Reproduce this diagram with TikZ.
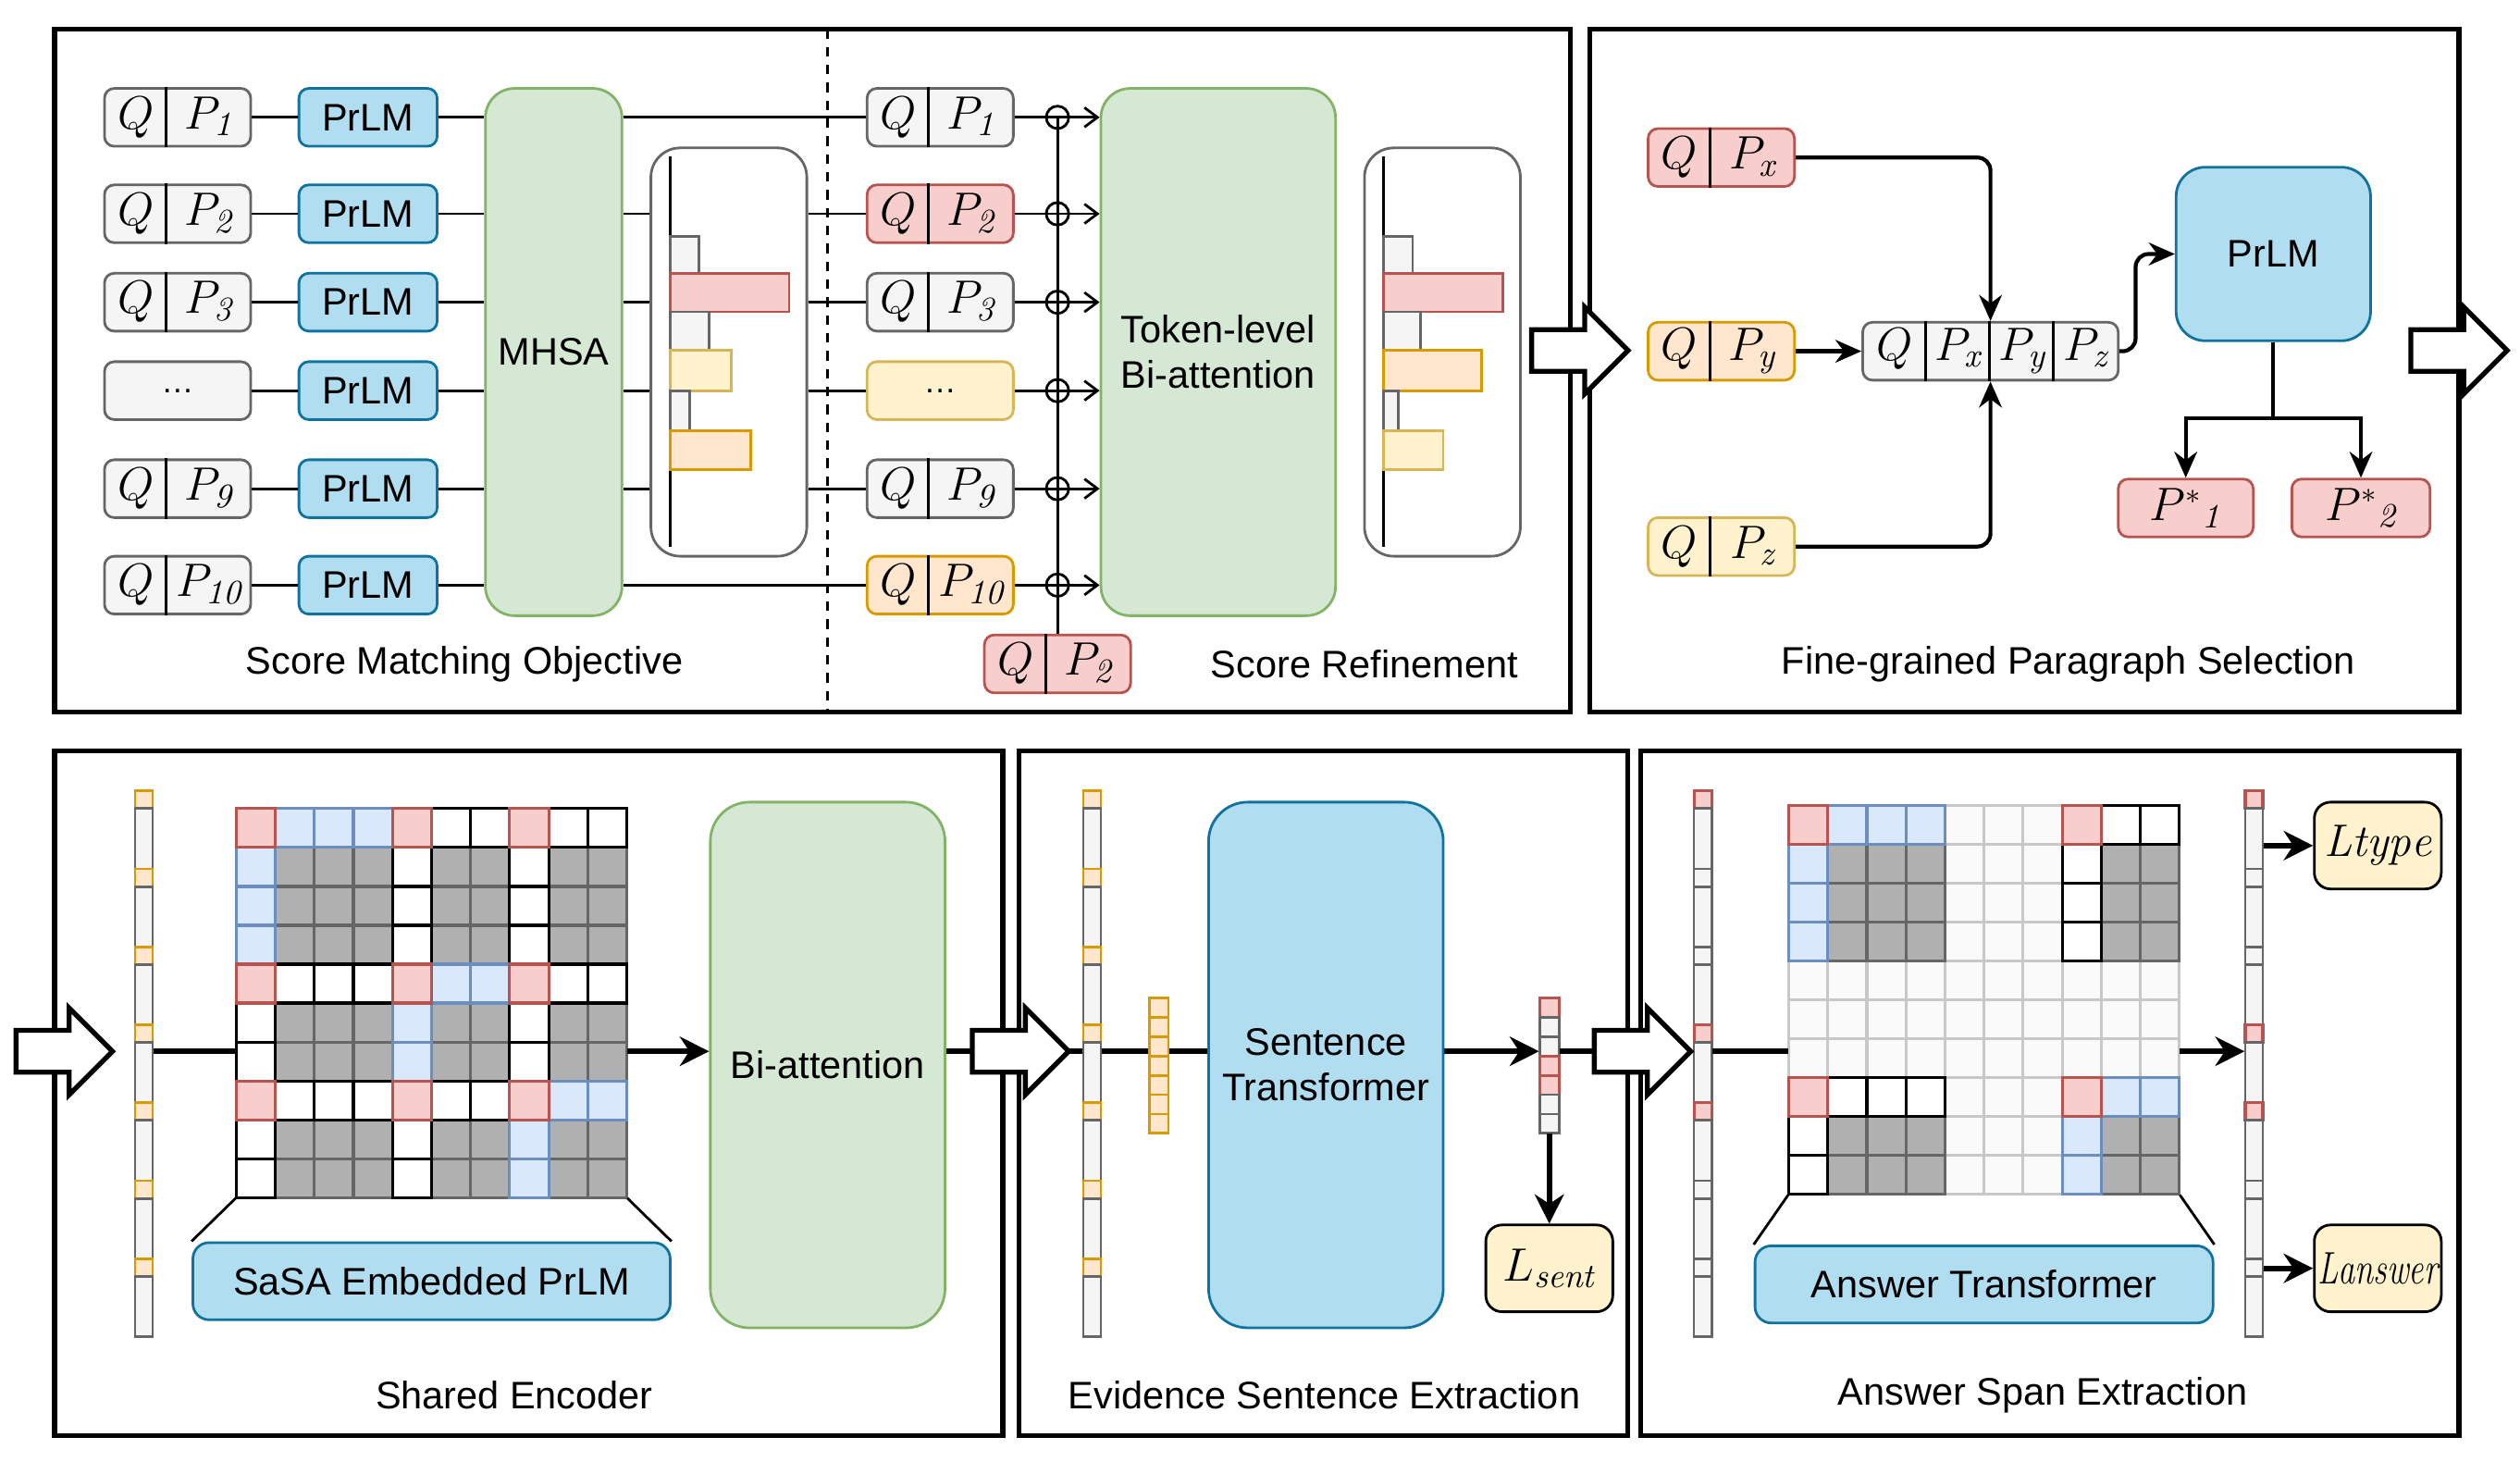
\documentclass[tikz,border=0pt]{standalone}
\usepackage{amsmath}
\usepackage{graphicx}
\usepackage{fontspec}
\newfontfamily\arialfont{Liberation Sans}
\usepackage{tikz}
\usetikzlibrary{arrows.meta, positioning}

\definecolor{grayF}{HTML}{F5F5F5}
\definecolor{grayD}{HTML}{666666}
\definecolor{redF}{HTML}{F8CECC}
\definecolor{redD}{HTML}{B85450}
\definecolor{yelF}{HTML}{FFF2CC}
\definecolor{yelD}{HTML}{D6B656}
\definecolor{oraF}{HTML}{FFE6CC}
\definecolor{oraD}{HTML}{D79B00}
\definecolor{blueF}{HTML}{B1DDF0}
\definecolor{blueD}{HTML}{10739E}
\definecolor{greenF}{HTML}{D5E8D4}
\definecolor{greenD}{HTML}{82B366}
\definecolor{lblueF}{HTML}{DAE8FC}
\definecolor{lblueD}{HTML}{6C8EBF}
\definecolor{matG}{HTML}{B0B0B0}
\definecolor{lightF}{HTML}{FAFAFA}
\definecolor{lightD}{HTML}{C8C8C8}

\def\sz{0.17372mm}

% large italic subscript
\newcommand{\isub}[1]{_{\mbox{\fontsize{10.5}{12}\selectfont\itshape #1}}}

% Q|P box: name, colour, position, right part
\newcommand{\qpnode}[4]{%
	\node[qp, #2] (#1) at (#3) {\makebox[6.8mm]{$Q$}\makebox[9mm]{#4}};
	\draw[line width=0.8pt] ([xshift=6.8mm]#1.north west) -- ([xshift=6.8mm]#1.south west);
}

% token column: name, x, small cells
\newcommand{\tokenbar}[3]{%
	\node[inner sep=0pt, minimum width=11*\sz, minimum height=340*\sz] (#1) at (#2,662) {};
	\foreach \sty [count=\kk from 0] in {#3}{
		\draw[cell\sty] (#2-5.5,492+48.5*\kk) rectangle ++(11,11);
		\draw[cellT] (#2-5.5,503+48.5*\kk) rectangle ++(11,37.5);
	}
}

% sentence vector: name, x, cells
\newcommand{\sentvec}[3]{%
	\node[inner sep=0pt, minimum width=12*\sz, minimum height=84*\sz] (#1) at (#2,663) {};
	\foreach \sty [count=\kk from 0] in {#3}
		\draw[cell\sty] (#2-6,621+12*\kk) rectangle ++(12,12);
}

% attention mask: left, top, rows
\newcommand{\maskgrid}[3]{%
	\foreach \pass in {L,G,W,B,R}{
		\foreach \row [count=\ri from 0] in {#3}{
			\foreach \cc [count=\cj from 0] in \row{
				\edef\ca{\cc}\edef\cb{\pass}%
				\ifx\ca\cb
					\draw[cell\cc] (#1+24.3*\cj,#2+24.2*\ri) rectangle ++(24.3,24.2);
				\fi
			}
		}
	}
}

\begin{document}
\begin{tikzpicture}[
		x=0.17372mm, y=-0.17372mm,
		font=\arialfont\fontsize{11.8}{14}\selectfont,
		panel/.style={draw, line width=1.5pt},
		qp/.style={
			draw,
			rounded corners=3pt,
			line width=0.8pt,
			inner sep=0pt,
			minimum width=91*\sz,
			minimum height=36*\sz,
			font=\fontsize{13.5}{15}\selectfont
		},
		gcol/.style={fill=grayF, draw=grayD},
		rcol/.style={fill=redF, draw=redD},
		ycol/.style={fill=yelF, draw=yelD},
		ocol/.style={fill=oraF, draw=oraD},
		bluebox/.style={draw=blueD, fill=blueF, line width=0.8pt, align=center},
		prlm/.style={bluebox, rounded corners=3pt, minimum width=86*\sz, minimum height=36*\sz},
		bigbox/.style={draw=greenD, fill=greenF, rounded corners=9pt, line width=0.8pt, align=center},
		histbox/.style={draw=grayD, rounded corners=9pt, line width=0.8pt, minimum width=97*\sz, minimum height=254*\sz},
		lossbox/.style={
			draw,
			fill=yelF,
			rounded corners=5pt,
			line width=0.8pt,
			inner sep=0pt,
			minimum width=79*\sz,
			minimum height=54*\sz,
			font=\fontsize{14}{16}\selectfont
		},
		oplus/.style={circle, draw, line width=0.8pt, minimum size=14*\sz, inner sep=0pt},
		link/.style={line width=0.8pt},
		barb/.style={link, -{Straight Barb[length=4pt, width=6pt]}},
		arr/.style={line width=1.2pt, rounded corners=4pt, -{Stealth[length=8pt, width=7pt]}},
		thickline/.style={line width=1.6pt},
		thickarr/.style={thickline, -{Stealth[length=9pt, width=9pt]}},
		hollow/.style={draw, fill=white, line width=1.5pt},
		cellR/.style={fill=redF, draw=redD, line width=0.9pt},
		cellB/.style={fill=lblueF, draw=lblueD, line width=0.9pt},
		cellG/.style={fill=matG, draw=grayD, line width=0.9pt},
		cellW/.style={fill=white, draw=black, line width=0.9pt},
		cellL/.style={fill=lightF, draw=lightD, line width=0.9pt},
		cellO/.style={fill=oraF, draw=oraD, line width=0.8pt},
		cellT/.style={fill=grayF, draw=grayD, line width=0.8pt}
		]
		\useasboundingbox (0,0) rectangle (1568,909);
		
		% Paneles
		\draw[panel] (34,18) rectangle (977,443);
		\draw[panel] (989,18) rectangle (1530,443);
		\draw[panel] (34,467) rectangle (624,893);
		\draw[panel] (634,467) rectangle (1013,893);
		\draw[panel] (1021,467) rectangle (1530,893);
		\draw[line width=0.8pt, dash pattern=on 3pt off 2.5pt] (515,18) -- (515,443);
		
		% Score matching
		\foreach \n/\y/\p in {1/73/1, 2/133/2, 3/188/3, 5/304/9, 6/364/10}{
			\qpnode{ql\n}{gcol}{110.5,\y}{$P\isub{\p}$}
		}
		\node[qp, gcol, font=\arialfont] (ql4) at (110.5,243) {\ldots};
		\foreach \n/\y in {1/73, 2/133, 3/188, 4/243, 5/304, 6/364}
			\node[prlm] (pm\n) at (229,\y) {PrLM};
		\node[bigbox, minimum width=85*\sz, minimum height=328*\sz] (mhsa) at (344.5,219) {MHSA};
		\node[histbox] (hist1) at (453.5,219) {};
		
		\qpnode{qr1}{gcol}{585,73}{$P\isub{1}$}
		\qpnode{qr2}{rcol}{585,133}{$P\isub{2}$}
		\qpnode{qr3}{gcol}{585,188}{$P\isub{3}$}
		\node[qp, ycol, font=\arialfont] (qr4) at (585,243) {\ldots};
		\qpnode{qr5}{gcol}{585,304}{$P\isub{9}$}
		\qpnode{qr6}{ocol}{585,364}{$P\isub{10}$}
		
		\foreach \n in {1,...,6}{
			\draw[link] (ql\n) -- (pm\n);
			\draw[link] (pm\n) -- (mhsa.west |- pm\n);
		}
		\draw[link] (mhsa.east |- qr1) -- (qr1);
		\draw[link] (mhsa.east |- qr6) -- (qr6);
		\foreach \n in {2,...,5}{
			\draw[link] (mhsa.east |- qr\n) -- (hist1.west |- qr\n);
			\draw[link] (hist1.east |- qr\n) -- (qr\n);
		}
		
		\draw[link] (417,97) -- (417,340);
		\draw[gcol, link] (417,147) rectangle (435,170);
		\draw[rcol, link] (417,170) rectangle (491,194);
		\draw[gcol, link] (417,194) rectangle (441,218);
		\draw[ycol, link] (417,218) rectangle (455,243);
		\draw[gcol, link] (417,243) rectangle (429,268);
		\draw[ocol, link] (417,268) rectangle (467,292);
		
		% Score refinement
		\node[bigbox, minimum width=146*\sz, minimum height=328*\sz] (tba) at (758,219) {Token-level\\Bi-attention};
		\qpnode{qbot}{rcol}{658,413}{$P\isub{2}$}
		\draw[link] (qbot.north) -- (qbot.north |- qr1);
		\foreach \n in {1,...,6}{
			\node[oplus] (c\n) at (qbot.north |- qr\n) {};
			\draw[barb] (qr\n) -- (tba.west |- qr\n);
		}
		\node[histbox] (hist2) at (897.5,219) {};
		\draw[link] (861,97) -- (861,340);
		\draw[gcol, link] (861,147) rectangle (879,170);
		\draw[rcol, link] (861,170) rectangle (935,194);
		\draw[gcol, link] (861,194) rectangle (884,218);
		\draw[ocol, link] (861,218) rectangle (922,243);
		\draw[gcol, link] (861,243) rectangle (870,268);
		\draw[ycol, link] (861,268) rectangle (898,292);
		
		\node (lab1) at (289,413) {Score Matching Objective};
		\node (lab2) at (849,413) {Score Refinement};
		
		% Paragraph selection
		\qpnode{px}{rcol}{1071,98}{$P\isub{x}$}
		\qpnode{py}{ocol}{1071,218.5}{$P\isub{y}$}
		\qpnode{pz}{ycol}{1071,340}{$P\isub{z}$}
		\node[qp, gcol, minimum width=159*\sz] (comb) at (1238.5,218.5) {\makebox[6.9mm]{$Q$}\makebox[6.9mm]{$P\isub{x}$}\makebox[6.9mm]{$P\isub{y}$}\makebox[6.9mm]{$P\isub{z}$}};
		\foreach \m in {1,2,3}
			\draw[line width=0.8pt] ([xshift=\m*6.9mm]comb.north west) -- ([xshift=\m*6.9mm]comb.south west);
		\node[bluebox, rounded corners=9pt, minimum width=121*\sz, minimum height=108*\sz] (bigprlm) at (1414.5,158) {PrLM};
		\node[qp, rcol, minimum width=84*\sz] (ps1) at (1360,316) {$P^{*}{}\isub{1}$};
		\node[qp, rcol, minimum width=86*\sz] (ps2) at (1469,316) {$P^{*}{}\isub{2}$};
		\coordinate (fork) at (bigprlm.south |- 0,260);
		
		\draw[arr] (px) -| (comb.north);
		\draw[arr] (pz) -| (comb.south);
		\draw[arr] (py) -- (comb);
		\draw[arr] (comb.east) -- ++(10,0) |- (bigprlm.west);
		\draw[line width=1.2pt] (bigprlm.south) -- (fork);
		\draw[arr, rounded corners=0pt] (fork) -| (ps1.north);
		\draw[arr, rounded corners=0pt] (fork) -| (ps2.north);
		
		\node (lab3) at (1287,413) {Fine-grained Paragraph Selection};
		
		% Bloques de flechas
		\coordinate (fw4) at (605,654);
		\coordinate (fw4tip) at (663,654);
		\coordinate (fw5) at (992,654);
		\coordinate (fw5tip) at (1052,654);
		
		% Shared encoder
		\tokenbar{bar1}{89.5}{O,O,O,O,O,O,O}
		\node[inner sep=0pt, minimum width=243*\sz, minimum height=242*\sz] (grid1) at (268.5,624) {};
		\maskgrid{147}{503}{{R,B,B,B,R,W,W,R,W,W},{B,G,G,G,W,G,G,W,G,G},{B,G,G,G,W,G,G,W,G,G},{B,G,G,G,W,G,G,W,G,G},{R,W,W,W,R,B,B,R,W,W},{W,G,G,G,B,G,G,W,G,G},{W,G,G,G,B,G,G,W,G,G},{R,W,W,W,R,W,W,R,B,B},{W,G,G,G,W,G,G,B,G,G},{W,G,G,G,W,G,G,B,G,G}}
		\node[bluebox, rounded corners=5pt, minimum width=297*\sz, minimum height=48*\sz] (sasa) at (268.5,797) {SaSA Embedded PrLM};
		\draw[link] (grid1.south west) -- (sasa.north west);
		\draw[link] (grid1.south east) -- (sasa.north east);
		\node[bigbox, rounded corners=12pt, minimum width=146*\sz, minimum height=327*\sz] (bia) at (515,662.5) {Bi-attention};
		\draw[thickline] (bar1.east |- fw4) -- (grid1.west |- fw4);
		\draw[thickarr] (grid1.east |- fw4) -- (bia.west |- fw4);
		\draw[thickline] (bia.east |- fw4) -- (fw4);
		\node (lab4) at (320,868) {Shared Encoder};
		
		% Evidence sentence extraction
		\tokenbar{bar2}{679.5}{O,O,O,O,O,O,O}
		\sentvec{svec}{721}{O,O,O,O,O,O,O}
		\node[bluebox, rounded corners=12pt, minimum width=146*\sz, minimum height=327*\sz] (st) at (825,662.5) {Sentence\\Transformer};
		\sentvec{ovec}{964}{R,T,T,R,R,T,T}
		\node[lossbox] (lsent) at (964,789) {$L\isub{sent}$};
		\draw[thickline] (fw4tip) -- (bar2.west |- fw4tip);
		\draw[thickline] (bar2.east |- fw4tip) -- (svec.west |- fw4tip);
		\draw[thickline] (svec.east |- fw4tip) -- (st.west |- fw4tip);
		\draw[thickarr] (st.east |- fw4tip) -- (ovec.west |- fw4tip);
		\draw[thickline] (ovec.east |- fw4tip) -- (fw5);
		\draw[thickarr] (ovec.south) -- (lsent.north);
		\node (lab5) at (824,868) {Evidence Sentence Extraction};
		
		% Answer span extraction
		\tokenbar{bar3}{1059.5}{R,T,T,R,R,T,T}
		\node[inner sep=0pt, minimum width=243*\sz, minimum height=242*\sz] (grid2) at (1234.5,622) {};
		\maskgrid{1113}{501}{{R,B,B,B,L,L,L,R,W,W},{B,G,G,G,L,L,L,W,G,G},{B,G,G,G,L,L,L,W,G,G},{B,G,G,G,L,L,L,W,G,G},{L,L,L,L,L,L,L,L,L,L},{L,L,L,L,L,L,L,L,L,L},{L,L,L,L,L,L,L,L,L,L},{R,W,W,W,L,L,L,R,B,B},{W,G,G,G,L,L,L,B,G,G},{W,G,G,G,L,L,L,B,G,G}}
		\node[bluebox, rounded corners=5pt, minimum width=285*\sz, minimum height=48*\sz] (ans) at (1234.5,799) {Answer Transformer};
		\draw[link] (grid2.south west) -- (ans.north west);
		\draw[link] (grid2.south east) -- (ans.north east);
		\tokenbar{bar4}{1402.5}{R,T,T,R,R,T,T}
		\node[lossbox] (ltype) at (1479.5,526) {$\mathit{Ltype}$};
		\node[lossbox] (lans) at (1479.5,789) {\scalebox{0.74}[1]{$\mathit{Lanswer}$}};
		\draw[thickline] (bar3.east |- fw5tip) -- (grid2.west |- fw5tip);
		\draw[thickarr] (grid2.east |- fw5tip) -- (bar4.west |- fw5tip);
		\draw[thickarr] (bar4.east |- ltype) -- (ltype);
		\draw[thickarr] (bar4.east |- lans) -- (lans);
		\node (lab6) at (1271,868) {Answer Span Extraction};
		
		% Flechas huecas
		\foreach \ax/\ay in {953/218, 1500/218, 10/654, 605/654, 992/654}
			\draw[hollow] (\ax,\ay-13) -- (\ax+33,\ay-13) -- (\ax+33,\ay-27) -- (\ax+60,\ay) -- (\ax+33,\ay+27) -- (\ax+33,\ay+13) -- (\ax,\ay+13) -- cycle;
		
	\end{tikzpicture}
\end{document}
